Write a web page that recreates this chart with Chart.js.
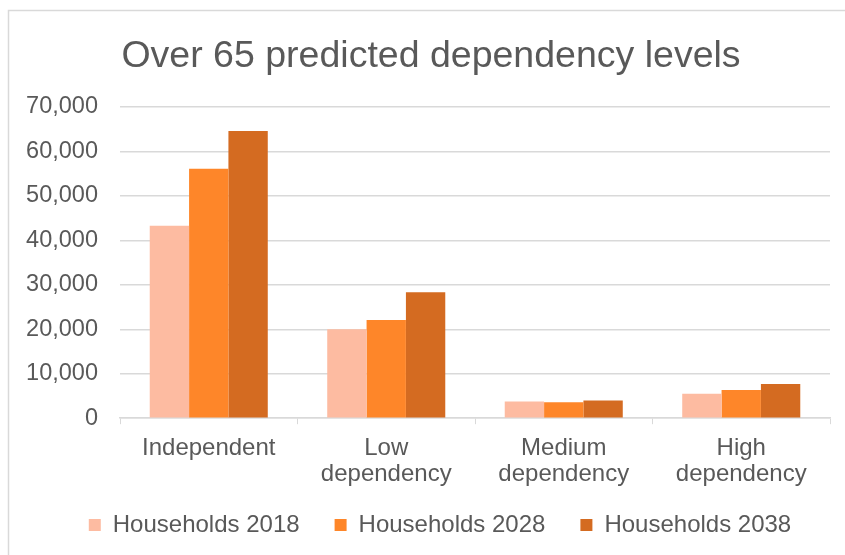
<!DOCTYPE html>
<html>
<head>
<meta charset="utf-8">
<script src="https://cdn.jsdelivr.net/npm/chart.js@4/dist/chart.umd.min.js"></script>
<style>
  html, body { margin: 0; padding: 0; background: #fff; overflow: hidden; }
</style>
</head>
<body>
<canvas id="c" width="845" height="555"></canvas>
<script>
const titleText = "Over 65 predicted dependency levels";
const categories = [["Independent"], ["Low", "dependency"], ["Medium", "dependency"], ["High", "dependency"]];
const seriesNames = ["Households 2018", "Households 2028", "Households 2038"];
const households2018 = [43300, 20000, 3750, 5500];
const households2028 = [56100, 22100, 3600, 6350];
const households2038 = [64600, 28300, 3950, 7700];
const yTicks = [0, 10000, 20000, 30000, 40000, 50000, 60000, 70000];
const colors = ["#FDBBA1", "#FE8629", "#D46B21"];

const FONT = "'Liberation Sans', Arial, sans-serif";
const TEXT = "#595959";
const GRID = "#d9d9d9";

const decorPlugin = {
  id: 'decor',
  beforeDraw(chart) {
    const ctx = chart.ctx;
    ctx.save();
    ctx.fillStyle = '#fff';
    ctx.fillRect(0, 0, chart.width, chart.height);
    ctx.strokeStyle = GRID;
    ctx.lineWidth = 1.5;
    ctx.strokeRect(8.5, 10.5, 1000, 1000);
    ctx.restore();
  },
  afterLayout(chart) {
    if (chart.titleBlock) { chart.titleBlock.left += 16; chart.titleBlock.right += 16; }
    if (chart.legend) {
      chart.legend.left += 25; chart.legend.right += 25;
      chart.legend.top -= 20; chart.legend.bottom -= 20;
    }
  }
};

new Chart(document.getElementById('c'), {
  type: 'bar',
  data: {
    labels: categories,
    datasets: [
      { label: seriesNames[0], data: households2018, backgroundColor: colors[0] },
      { label: seriesNames[1], data: households2028, backgroundColor: colors[1] },
      { label: seriesNames[2], data: households2038, backgroundColor: colors[2] }
    ]
  },
  options: {
    responsive: false,
    animation: false,
    devicePixelRatio: 1,
    layout: { padding: { left: 0, right: 15, top: 0, bottom: -12 } },
    datasets: { bar: { categoryPercentage: 0.665, barPercentage: 1 } },
    plugins: {
      title: {
        display: true,
        text: titleText,
        color: TEXT,
        font: { family: FONT, size: 37.5, weight: 'normal' },
        padding: { top: 34, bottom: 28 }
      },
      legend: {
        position: 'bottom',
        labels: {
          color: TEXT,
          font: { family: FONT, size: 24 },
          boxWidth: 12,
          boxHeight: 12,
          padding: 35
        }
      },
      tooltip: { enabled: false }
    },
    scales: {
      x: {
        grid: { display: true, drawOnChartArea: false, drawTicks: true, tickLength: 6, color: GRID, offset: true },
        border: { display: true, color: GRID, width: 1.5 },
        ticks: { color: TEXT, font: { family: FONT, size: 24, lineHeight: 1.08 }, padding: 11, maxRotation: 0 }
      },
      y: {
        min: 0,
        max: 70000,
        afterFit(scale) { scale.width = 120; },
        afterBuildTicks(scale) { scale.ticks = yTicks.map(v => ({ value: v })); },
        grid: { color: GRID, lineWidth: 1.5, drawTicks: false },
        border: { display: false },
        ticks: {
          color: TEXT,
          font: { family: FONT, size: 23.5 },
          padding: 22,
          callback: v => v.toLocaleString('en-US')
        }
      }
    }
  },
  plugins: [decorPlugin]
});
</script>
</body>
</html>
